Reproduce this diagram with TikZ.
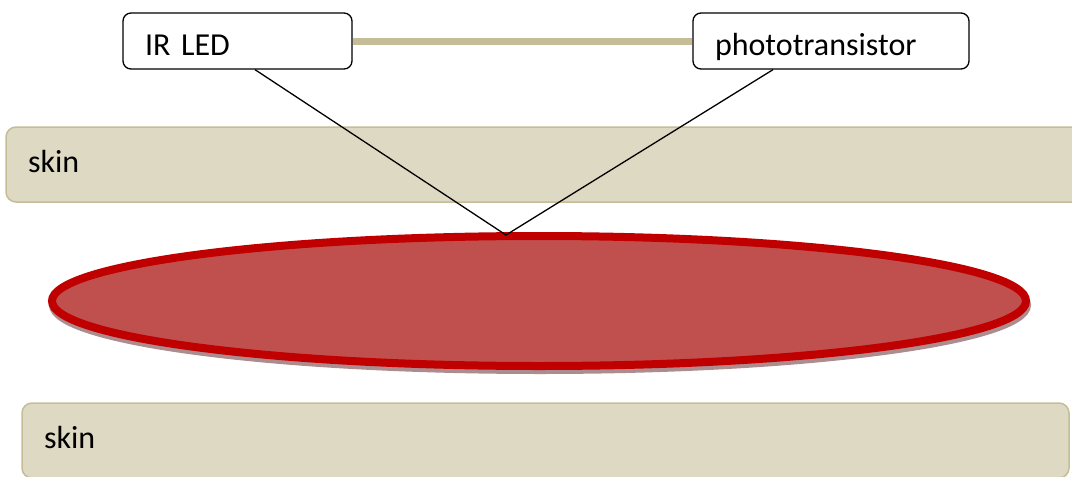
\documentclass[tikz,border=0pt]{standalone}
\usepackage{fontspec}
\setmainfont{Carlito}
\usetikzlibrary{shapes.geometric,shadows,calc}
\definecolor{skintan}{RGB}{221,217,195}
\definecolor{skinedge}{RGB}{196,189,151}
\definecolor{bloodred}{RGB}{192,80,77}
\definecolor{vesseledge}{RGB}{192,0,0}
\definecolor{vesselshade}{RGB}{172,140,142}

\begin{document}
\begin{tikzpicture}[x=1pt, y=-1pt,
    sensor/.style={draw, line width=1.3pt, rounded corners=8pt, fill=white, inner xsep=22pt, inner ysep=4pt, text width=#1, align=left, text height=38pt, text depth=10pt, font=\fontsize{32}{38}\selectfont},
    skinband/.style={draw=skinedge, line width=1.5pt, fill=skintan, rounded corners=10pt, inner xsep=22pt, inner ysep=4pt, text width=#1, align=left, text height=41pt, text depth=26pt, font=\fontsize{32}{38}\selectfont},
    vessel/.style={ellipse, draw=vesseledge, line width=8pt, fill=bloodred, minimum width=974pt, minimum height=130pt, inner sep=0pt,
        drop shadow={shadow xshift=1pt, shadow yshift=-4pt, fill=vesselshade, draw=vesselshade, line width=8pt, opacity=1}},
]
\clip (0,0) rectangle (1072,477);

% skin layers
\node[skinband=1040pt] (skintop) at (548,164.5) {skin};
\node[skinband=1003pt] (skinbottom) at (545.5,440.5) {skin};

% blood vessel
\node[vessel] (vein) at (539,301) {};

% sensors
\node[sensor=185pt] (led) at (237.5,41) {IR LED};
\node[sensor=232pt] (photo) at (831,41) {phototransistor};
\draw[skinedge, line width=7pt] (led) -- (photo);

% light path
\coordinate (hit) at (506,235);
\draw[line width=1.3pt] ($(led.south)+(17.5,0)$) -- (hit) -- ($(photo.south)+(-58,0)$);
\end{tikzpicture}
\end{document}
